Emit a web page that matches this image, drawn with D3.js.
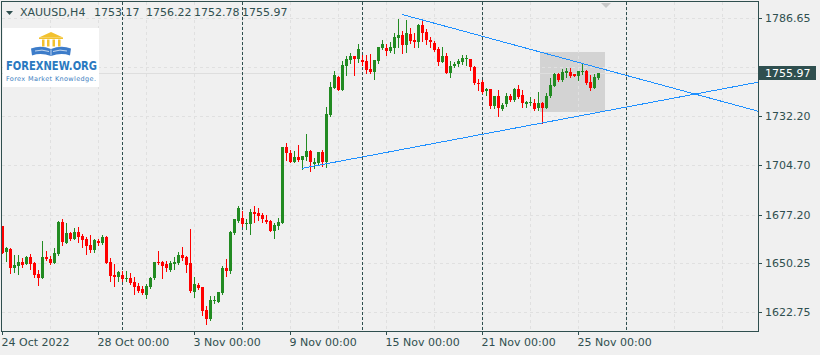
<!DOCTYPE html>
<html>
<head>
<meta charset="utf-8">
<script src="https://cdn.jsdelivr.net/npm/d3@7"></script>
<style>
  html, body { margin: 0; padding: 0; background: #f0f0f0; }
  #chart { width: 820px; height: 355px; }
  text { font-family: "DejaVu Sans", Verdana, sans-serif; }
</style>
</head>
<body>
<div id="chart"></div>
<script>
// XAUUSD H4, one entry per bar (bar 0 = 24 Oct 2022 00:00)
const symbolTitle = 'XAUUSD,H4';
const lastOHLC = [1753.17, 1756.22, 1752.78, 1755.97];

const opens = [
  1670.8,1656.5,1658.0,1647.6,1648.7,1650.9,1649.6,1653.4,1650.0,1644.1,
  1642.0,1653.4,1652.3,1650.4,1655.2,1672.9,1661.5,1667.1,1663.6,1667.7,
  1665.3,1663.6,1660.3,1657.5,1662.7,1661.2,1664.9,1650.6,1643.5,1642.6,
  1643.5,1641.1,1641.7,1639.8,1637.4,1635.7,1632.4,1636.7,1641.7,1650.9,
  1650.6,1649.5,1646.3,1649.6,1650.4,1654.7,1653.7,1650.0,1634.2,1638.0,
  1636.7,1624.0,1619.0,1628.9,1628.6,1633.5,1647.4,1645.9,1666.9,1673.6,
  1675.1,1672.2,1672.0,1678.8,1677.9,1677.0,1674.2,1673.6,1668.2,1670.8,
  1672.7,1714.9,1711.8,1706.7,1709.3,1707.6,1709.5,1712.7,1705.7,1705.8,
  1712.1,1706.5,1732.7,1748.0,1754.1,1746.7,1760.0,1763.4,1765.6,1763.8,
  1763.4,1763.0,1758.4,1756.9,1762.8,1770.3,1769.9,1768.4,1770.3,1775.8,
  1777.3,1771.8,1777.9,1774.6,1773.6,1782.9,1778.8,1774.6,1773.1,1769.5,
  1762.5,1765.6,1756.2,1760.1,1760.9,1762.5,1764.0,1764.0,1759.7,1750.7,
  1751.0,1746.1,1747.1,1737.8,1743.5,1736.1,1738.7,1743.3,1741.1,1747.1,
  1743.9,1738.9,1739.3,1739.6,1736.5,1739.6,1736.5,1743.3,1749.1,1755.6,
  1752.3,1756.0,1756.9,1755.4,1754.5,1756.5,1757.3,1751.3,1747.6,1753.17
];
const highs = [
  1670.8,1659.1,1658.8,1654.7,1654.7,1652.8,1654.1,1655.1,1650.9,1646.3,
  1662.5,1656.9,1654.1,1658.4,1673.8,1674.6,1672.4,1667.7,1669.9,1670.1,
  1666.4,1664.6,1665.8,1663.6,1663.4,1665.8,1665.3,1653.2,1649.6,1645.8,
  1645.8,1645.8,1644.5,1642.6,1639.2,1637.6,1638.5,1642.6,1651.0,1656.9,
  1651.3,1651.3,1651.3,1653.7,1656.5,1659.3,1654.1,1669.2,1642.4,1638.9,
  1636.7,1626.1,1631.8,1631.8,1634.1,1648.3,1652.4,1668.1,1675.0,1682.0,
  1679.5,1674.8,1680.3,1682.0,1680.9,1678.1,1677.0,1674.2,1672.5,1675.1,
  1715.1,1717.0,1713.2,1712.7,1716.0,1709.9,1722.1,1713.2,1708.6,1712.3,
  1713.0,1737.0,1751.3,1757.3,1754.6,1762.8,1765.6,1767.1,1765.6,1772.3,
  1766.2,1766.2,1766.6,1763.4,1770.5,1774.5,1772.3,1773.6,1778.6,1786.3,
  1779.6,1785.7,1781.1,1778.3,1783.5,1785.1,1780.7,1776.4,1774.0,1770.5,
  1770.5,1767.5,1762.8,1762.5,1764.0,1766.2,1766.2,1764.0,1760.1,1752.6,
  1752.3,1748.0,1747.1,1743.5,1746.7,1739.3,1745.2,1744.3,1748.0,1749.5,
  1746.7,1740.5,1742.6,1741.6,1745.7,1740.2,1744.8,1753.5,1756.0,1756.0,
  1758.2,1759.1,1758.8,1755.6,1757.4,1761.6,1757.8,1755.0,1755.6,1756.22
];
const lows = [
  1655.8,1651.5,1644.5,1645.4,1643.9,1647.8,1649.5,1646.9,1642.6,1637.9,
  1642.0,1651.9,1649.5,1650.0,1654.7,1660.3,1661.5,1663.0,1663.6,1662.1,
  1659.0,1655.1,1656.2,1656.5,1660.3,1660.8,1650.0,1640.2,1637.6,1640.4,
  1640.2,1640.2,1638.4,1632.9,1634.2,1632.8,1630.6,1636.3,1641.3,1649.6,
  1642.0,1645.8,1645.9,1646.9,1649.6,1651.9,1645.4,1634.2,1631.4,1635.7,
  1621.2,1616.4,1618.7,1628.1,1628.6,1632.9,1643.1,1644.7,1666.4,1673.2,
  1670.6,1669.0,1666.4,1673.2,1674.2,1672.9,1672.4,1668.1,1664.3,1669.2,
  1672.5,1707.6,1706.5,1706.7,1707.3,1702.9,1707.4,1701.7,1703.4,1705.7,
  1704.5,1703.9,1732.2,1747.8,1746.7,1746.7,1755.0,1761.7,1755.0,1762.1,
  1760.6,1756.3,1756.0,1752.8,1761.6,1769.5,1766.2,1768.0,1767.5,1770.5,
  1767.1,1768.0,1772.7,1770.5,1770.5,1774.0,1772.3,1770.5,1768.6,1760.6,
  1762.1,1756.0,1754.1,1759.7,1760.1,1761.0,1760.6,1757.8,1749.8,1746.7,
  1744.8,1743.9,1736.8,1736.5,1732.3,1735.5,1737.9,1740.5,1740.5,1742.0,
  1737.4,1737.4,1738.3,1735.5,1735.5,1728.1,1736.5,1742.9,1748.9,1751.8,
  1751.8,1754.1,1754.1,1754.5,1752.3,1755.4,1750.0,1746.7,1747.6,1752.78
];
const closes = [
  1656.0,1658.4,1647.6,1649.1,1650.6,1649.1,1653.7,1649.6,1643.5,1642.0,
  1653.7,1652.3,1650.0,1656.0,1672.9,1662.1,1666.8,1663.6,1667.3,1664.9,
  1663.0,1659.9,1657.5,1663.0,1661.5,1664.6,1650.4,1643.1,1642.6,1645.0,
  1641.3,1642.0,1639.2,1637.0,1634.8,1633.7,1637.4,1642.0,1650.6,1650.0,
  1648.7,1647.6,1650.4,1650.9,1654.7,1652.8,1649.1,1634.6,1638.5,1636.3,
  1623.6,1619.2,1629.8,1629.6,1633.9,1647.4,1645.9,1667.5,1674.7,1680.9,
  1672.0,1672.7,1678.7,1677.5,1676.4,1674.7,1673.2,1668.2,1671.4,1673.2,
  1715.1,1711.8,1706.5,1709.3,1707.6,1709.9,1712.7,1706.5,1706.7,1712.1,
  1706.7,1733.3,1748.2,1755.0,1746.7,1760.6,1763.8,1765.6,1764.0,1769.4,
  1762.5,1757.8,1756.5,1763.4,1770.5,1772.2,1768.4,1770.5,1776.0,1777.3,
  1771.8,1778.3,1774.0,1773.3,1782.9,1778.6,1774.6,1773.3,1769.0,1762.5,
  1765.6,1756.0,1760.1,1761.0,1762.8,1764.3,1764.3,1759.7,1750.7,1749.8,
  1745.7,1747.1,1737.8,1743.3,1736.5,1738.3,1743.3,1741.1,1747.2,1742.9,
  1739.3,1740.1,1739.8,1736.1,1739.6,1736.5,1743.3,1749.4,1755.6,1752.3,
  1756.5,1757.3,1754.6,1754.6,1757.3,1757.1,1750.4,1748.0,1754.1,1755.97
];

const priceTicks = [1786.65, 1759.40, 1732.20, 1704.70, 1677.20, 1650.25, 1622.75];
const dateLabels = ['24 Oct 2022', '28 Oct 00:00', '3 Nov 00:00', '9 Nov 00:00',
                    '15 Nov 00:00', '21 Nov 00:00', '25 Nov 00:00'];
const dateLabelBars = [0, 24, 48, 72, 96, 120, 144];
const separatorBars = [30, 60, 90, 120, 156];

// drawn objects: triangle trend lines and the box between them
const upperTrend = [{ bar: 100, price: 1788.8 }, { bar: 150, price: 1758.5 }];
const lowerTrend = [{ bar: 75, price: 1703.0 }, { bar: 150, price: 1734.6 }];
const boxBars = [134.5, 150.75];
const boxPrices = [1767.7, 1734.6];

class CandleChart {
    constructor(containerId) {
        this.containerId = containerId;
        this.width = 820;
        this.height = 355;
        this.plot = { left: 2, right: 758, top: 2, bottom: 331 };
        this.colors = {
            bg: '#f0f0f0', frame: '#2f4f4f', grid: '#e0e0e0',
            up: '#228b22', down: '#ff0000', trend: '#1e90ff', box: '#d3d3d3'
        };
    }

    init() {
        this.bars = opens.map((o, i) => ({
            i, o, h: highs[i], l: lows[i], c: closes[i]
        }));
        this.setupSVG();
        this.drawGrid();
        this.drawCandles();
        this.drawTrends();
        this.drawAxes();
        this.drawHeader();
        this.drawLogo();
    }

    setupSVG() {
        this.svg = d3.select(`#${this.containerId}`)
            .append('svg')
            .attr('width', this.width)
            .attr('height', this.height);

        this.svg.append('rect')
            .attr('width', this.width).attr('height', this.height)
            .attr('fill', this.colors.bg);

        this.svg.append('clipPath').attr('id', 'plot-clip')
            .append('rect')
            .attr('x', this.plot.left).attr('y', this.plot.top)
            .attr('width', this.plot.right - this.plot.left)
            .attr('height', this.plot.bottom - this.plot.top);

        // 4 px per bar
        this.xScale = d3.scaleLinear().domain([0, 149]).range([2, 598]);
        this.yScale = d3.scaleLinear().domain([1786.65, 1622.75]).range([18.3, 312.3]);

        this.g = this.svg.append('g')
            .attr('clip-path', 'url(#plot-clip)')
            .attr('shape-rendering', 'crispEdges');
    }

    drawGrid() {
        const x = this.xScale, y = this.yScale, p = this.plot;

        // box sits under the grid
        this.g.append('rect')
            .attr('x', x(boxBars[0]))
            .attr('y', y(boxPrices[0]))
            .attr('width', x(boxBars[1]) - x(boxBars[0]))
            .attr('height', y(boxPrices[1]) - y(boxPrices[0]))
            .attr('fill', this.colors.box);

        this.g.selectAll('.hgrid')
            .data(priceTicks)
            .enter().append('line')
            .attr('class', 'hgrid')
            .attr('x1', p.left).attr('x2', p.right)
            .attr('y1', d => Math.round(y(d)) + 0.5)
            .attr('y2', d => Math.round(y(d)) + 0.5)
            .attr('stroke', this.colors.grid)
            .attr('stroke-dasharray', '3,3');

        const vBars = d3.range(12, 190, 12);
        this.g.selectAll('.vgrid')
            .data(vBars)
            .enter().append('line')
            .attr('class', 'vgrid')
            .attr('x1', d => x(d) + 0.5).attr('x2', d => x(d) + 0.5)
            .attr('y1', p.top).attr('y2', p.bottom)
            .attr('stroke', this.colors.grid)
            .attr('stroke-dasharray', '3,3');

        // current price line
        this.g.append('line')
            .attr('x1', p.left).attr('x2', p.right)
            .attr('y1', Math.round(y(lastOHLC[3])) + 0.5)
            .attr('y2', Math.round(y(lastOHLC[3])) + 0.5)
            .attr('stroke', '#dedede');

        this.g.selectAll('.sep')
            .data(separatorBars)
            .enter().append('line')
            .attr('class', 'sep')
            .attr('x1', d => x(d) + 0.5).attr('x2', d => x(d) + 0.5)
            .attr('y1', p.top).attr('y2', p.bottom)
            .attr('stroke', this.colors.frame)
            .attr('stroke-dasharray', '3,2');
    }

    drawCandles() {
        const x = this.xScale, y = this.yScale;
        const col = d => d.c >= d.o ? this.colors.up : this.colors.down;

        const candles = this.g.selectAll('.candle')
            .data(this.bars)
            .enter().append('g')
            .attr('class', 'candle');

        candles.append('line')
            .attr('x1', d => x(d.i) + 0.5).attr('x2', d => x(d.i) + 0.5)
            .attr('y1', d => Math.round(y(d.h)))
            .attr('y2', d => Math.round(y(d.l)) + 1)
            .attr('stroke', col);

        candles.append('rect')
            .attr('x', d => x(d.i) - 1)
            .attr('width', 3)
            .attr('y', d => Math.round(y(Math.max(d.o, d.c))))
            .attr('height', d => Math.max(1, Math.round(y(Math.min(d.o, d.c))) - Math.round(y(Math.max(d.o, d.c)))))
            .attr('fill', col);
    }

    drawTrends() {
        const x = this.xScale, y = this.yScale;
        const endBar = x.invert(this.plot.right);
        [upperTrend, lowerTrend].forEach(t => {
            const slope = (t[1].price - t[0].price) / (t[1].bar - t[0].bar);
            const endPrice = t[0].price + slope * (endBar - t[0].bar);
            this.g.append('line')
                .attr('x1', x(t[0].bar)).attr('y1', y(t[0].price))
                .attr('x2', x(endBar)).attr('y2', y(endPrice))
                .attr('stroke', this.colors.trend)
                .attr('stroke-width', 1);
        });
    }

    drawAxes() {
        const x = this.xScale, y = this.yScale, p = this.plot;
        const fc = this.colors.frame;

        this.svg.append('rect')
            .attr('x', p.left - 0.5).attr('y', p.top - 0.5)
            .attr('width', p.right - p.left + 1)
            .attr('height', p.bottom - p.top + 1)
            .attr('fill', 'none')
            .attr('stroke', fc)
            .attr('shape-rendering', 'crispEdges');

        // shift marker
        this.svg.append('path')
            .attr('d', 'M601,3 L611,3 L606,8 Z')
            .attr('fill', '#c8c8c8');

        const curY = y(lastOHLC[3]);
        const shown = priceTicks.filter(v => Math.abs(y(v) - curY) > 10);

        this.svg.selectAll('.ytick')
            .data(priceTicks)
            .enter().append('line')
            .attr('x1', p.right).attr('x2', p.right + 4)
            .attr('y1', d => Math.round(y(d)) + 0.5)
            .attr('y2', d => Math.round(y(d)) + 0.5)
            .attr('stroke', fc)
            .attr('shape-rendering', 'crispEdges');

        this.svg.selectAll('.ylabel')
            .data(shown)
            .enter().append('text')
            .attr('x', 765)
            .attr('y', d => y(d) + 4)
            .attr('font-size', '11px')
            .attr('fill', fc)
            .text(d => d.toFixed(2));

        this.svg.append('rect')
            .attr('x', 759).attr('y', Math.round(curY) - 7)
            .attr('width', 57).attr('height', 14)
            .attr('fill', fc);
        this.svg.append('text')
            .attr('x', 765).attr('y', curY + 4)
            .attr('font-size', '11px')
            .attr('fill', '#ffffff')
            .text(lastOHLC[3].toFixed(2));

        this.svg.selectAll('.xtick')
            .data(dateLabelBars)
            .enter().append('line')
            .attr('x1', d => x(d) + 0.5).attr('x2', d => x(d) + 0.5)
            .attr('y1', p.bottom).attr('y2', p.bottom + 4)
            .attr('stroke', fc)
            .attr('shape-rendering', 'crispEdges');

        this.svg.selectAll('.xlabel')
            .data(dateLabels)
            .enter().append('text')
            .attr('x', (d, i) => x(dateLabelBars[i]) - 0.5)
            .attr('y', 346)
            .attr('font-size', '11px')
            .attr('fill', fc)
            .text(d => d);
    }

    drawHeader() {
        const fc = this.colors.frame;
        this.svg.append('path')
            .attr('d', 'M6,11 L13,11 L9.5,15 Z')
            .attr('fill', fc);
        this.svg.append('text')
            .attr('x', 20).attr('y', 16)
            .attr('font-size', '11px')
            .attr('fill', fc)
            .text(symbolTitle);
        const xs = [94, 146, 194, 242];
        this.svg.selectAll('.ohlc')
            .data(lastOHLC)
            .enter().append('text')
            .attr('x', (d, i) => xs[i]).attr('y', 16)
            .attr('font-size', '11px')
            .attr('fill', fc)
            .text(d => d.toFixed(2));
    }

    drawLogo() {
        const lg = this.svg.append('g');
        lg.append('rect')
            .attr('x', 3).attr('y', 28).attr('width', 96).attr('height', 59)
            .attr('fill', '#ffffff');

        const gold = '#f2c12e';
        lg.append('path').attr('d', 'M39,37.5 L51,32 L63,37.5 Z').attr('fill', gold);
        lg.append('rect').attr('x', 39).attr('y', 37.5).attr('width', 24).attr('height', 1.5).attr('fill', gold);
        [42, 47, 52.5, 58].forEach(cx => {
            lg.append('rect').attr('x', cx).attr('y', 39.5).attr('width', 2.5).attr('height', 7).attr('fill', gold);
        });
        lg.append('path')
            .attr('d', 'M31,48.5 Q41,45 51,49 Q61,45 71,48.5 L70,55.5 Q61,52.5 51,56 Q41,52.5 32,55.5 Z')
            .attr('fill', '#3d7cc9');
        lg.append('path')
            .attr('d', 'M51,49.5 L51,55.5 M35,51 Q42,49 49,51.5 M53,51.5 Q60,49 67,51')
            .attr('stroke', '#ffffff').attr('stroke-width', 0.7).attr('fill', 'none');

        lg.append('text')
            .attr('x', 6).attr('y', 69.5)
            .attr('font-family', '"Liberation Sans", Arial, sans-serif')
            .attr('font-weight', 'bold')
            .attr('font-size', '12.5px')
            .attr('textLength', 91)
            .attr('lengthAdjust', 'spacingAndGlyphs')
            .attr('fill', '#2a79c0')
            .text('FOREXNEW.ORG');
        lg.append('text')
            .attr('x', 6).attr('y', 80.5)
            .attr('font-family', '"Liberation Sans", Arial, sans-serif')
            .attr('font-size', '6.5px')
            .attr('textLength', 90)
            .attr('lengthAdjust', 'spacing')
            .attr('fill', '#3a7dc0')
            .text('Forex Market Knowledge.');
    }
}

const chart = new CandleChart('chart');
chart.init();
</script>
</body>
</html>
